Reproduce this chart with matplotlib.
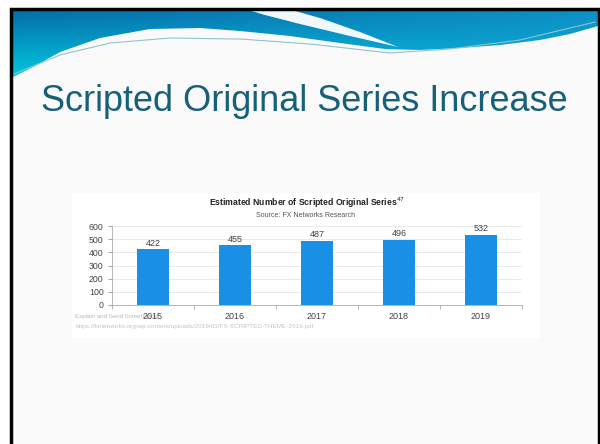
import matplotlib.pyplot as plt
import numpy as np
from matplotlib.patches import Polygon, Rectangle

# chart data
years = ["2015", "2016", "2017", "2018", "2019"]
series = [422, 455, 487, 496, 532]
y_ticks = [0, 100, 200, 300, 400, 500, 600]

slide_title = "Scripted Original Series Increase"
chart_title = "Estimated Number of Scripted Original Series$^{47}$"
chart_source = "Source: FX Networks Research"
footer_1 = "Explain and Send Screenshots"
footer_2 = "https://fxnetworks.org/wp-content/uploads/2019/03/FX-SCRIPTED-THEME-2019.pdf"

plt.rcParams['font.family'] = ['Liberation Sans', 'DejaVu Sans']

fig = plt.figure(figsize=(6, 4.44), dpi=100)
fig.patch.set_facecolor("white")

# background layer in pixel coordinates
bg = fig.add_axes([0, 0, 1, 1])
bg.set_xlim(0, 600)
bg.set_ylim(444, 0)
bg.axis("off")

bg.add_patch(Rectangle((11, 9), 587, 440, facecolor="#fafafa", edgecolor="none", zorder=0))

# header band: blue gradient down to a wavy edge
wx = np.array([11, 35, 60, 100, 150, 200, 240, 290, 340, 385, 420, 460, 500, 540, 570, 598])
wy = np.array([78, 66, 52, 38, 29, 28, 31, 36, 43, 49, 50, 48, 45, 40, 34, 26])
xs = np.linspace(11, 598, 200)
edge = np.interp(xs, wx, wy)
verts = [(11, 9), (598, 9)] + list(zip(xs[::-1], edge[::-1]))
band = Polygon(verts, closed=True, facecolor="none", edgecolor="none")
bg.add_patch(band)

gy, gx = np.mgrid[0:1:80j, 0:1:200j]
top = np.array([0.02, 0.42, 0.66])
bot = np.array([0.0, 0.80, 0.88])
right = np.array([0.08, 0.65, 0.85])
t = gy[..., None]
s = gx[..., None]
img = (1 - t) * top + t * bot
img = img * (1 - 0.6 * s) + right * 0.6 * s
im = bg.imshow(img, extent=[11, 598, 80, 9], aspect="auto", zorder=1, interpolation="bilinear")
im.set_clip_path(band)

# white streak inside the band
streak = [(245, 9), (288, 9), (320, 18), (360, 32), (398, 47),
          (350, 36), (300, 24), (265, 15)]
bg.add_patch(Polygon(streak, closed=True, facecolor="white", edgecolor="none", alpha=0.95, zorder=2))

# thin accent line under the band
lx = np.array([14, 60, 110, 170, 240, 310, 390, 450, 520, 595])
ly = np.array([74, 55, 43, 38, 39, 44, 53, 49, 40, 22])
lxs = np.linspace(14, 595, 200)
bg.plot(lxs, np.interp(lxs, lx, ly), color="#8fc3cf", lw=0.8, zorder=2)

# slide border
bg.plot([10.5, 10.5, 598.5, 598.5], [449, 9.5, 9.5, 449], color="black", lw=2.5, zorder=5,
        solid_joinstyle="miter")

bg.text(41, 111, slide_title, fontsize=26, color="#17607a", va="baseline", ha="left", zorder=3)

# embedded chart image area
bg.add_patch(Rectangle((72, 193), 468, 145, facecolor="white", edgecolor="none", zorder=1))
bg.text(307, 203, chart_title, fontsize=6.2, fontweight="bold", color="#222222",
        ha="center", va="center", zorder=3)
bg.text(306, 215, chart_source, fontsize=5.0, color="#555555", ha="center", va="center", zorder=3)
bg.text(75, 316, footer_1, fontsize=4.4, color="#b8b8b8", ha="left", va="center", zorder=3)
bg.text(75, 326, footer_2, fontsize=4.6, color="#c4c4c4", ha="left", va="center", zorder=3)

# bar chart
ax = fig.add_axes([112 / 600, 1 - 305 / 444, 410 / 600, 79 / 444])
ax.set_facecolor("none")
x = np.arange(len(years))
ax.bar(x, series, width=0.39, color="#1a8fe6", zorder=3)
for xi, v in zip(x, series):
    ax.text(xi, v + 12, str(v), ha="center", va="bottom", fontsize=6.5, color="#444444")

ax.set_xlim(-0.5, len(years) - 0.5)
ax.set_ylim(0, 600)
ax.set_yticks(y_ticks)
ax.set_xticks(x)
ax.set_xticklabels(years)
ax.set_xticks(np.arange(len(years) + 1) - 0.5, minor=True)
ax.tick_params(axis="x", which="major", length=0, labelsize=6.5, colors="#444444", pad=5)
ax.tick_params(axis="x", which="minor", length=3, color="#aaaaaa")
ax.tick_params(axis="y", length=3, color="#aaaaaa", labelsize=6.3, labelcolor="#444444", pad=3)
ax.grid(axis="y", color="#e6e6e6", lw=0.6, zorder=0)
for side in ["top", "right"]:
    ax.spines[side].set_visible(False)
ax.spines["left"].set_color("#aaaaaa")
ax.spines["bottom"].set_color("#aaaaaa")
ax.spines["left"].set_linewidth(0.6)
ax.spines["bottom"].set_linewidth(0.6)

fig.savefig("out.png", dpi=100)
